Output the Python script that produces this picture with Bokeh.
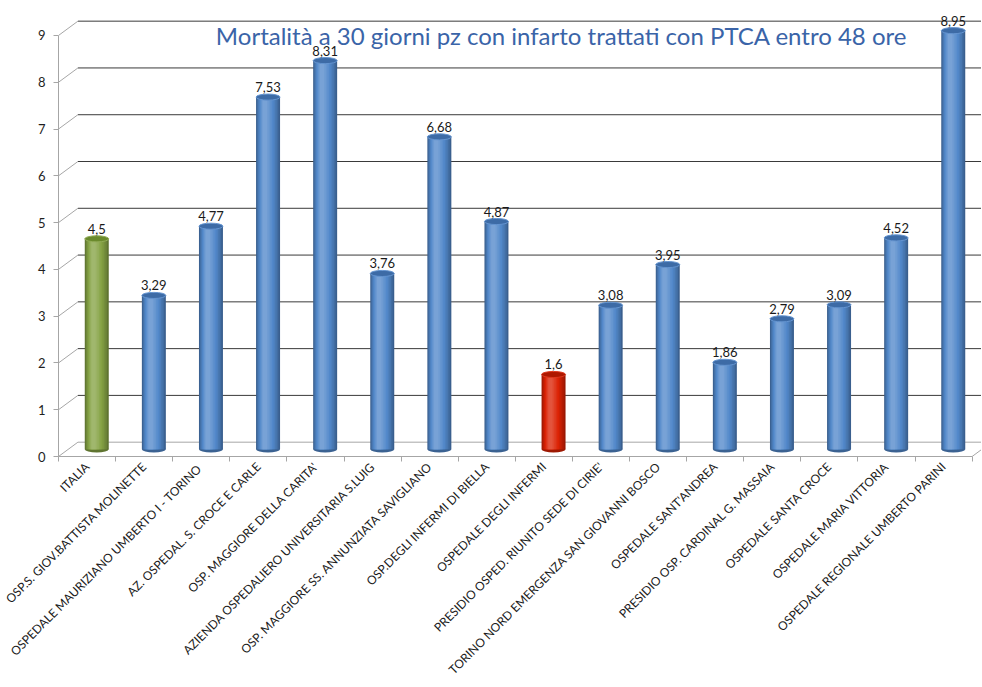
import numpy as np
from math import pi
from bokeh.plotting import figure
from bokeh.models import Label, FixedTicker, Range1d
from bokeh.core.properties import value
from bokeh.embed import file_html
from bokeh.resources import INLINE

# ---------------- data ----------------
categories = [
    "ITALIA",
    "OSP.S. GIOV.BATTISTA MOLINETTE",
    "OSPEDALE MAURIZIANO  UMBERTO I - TORINO",
    "AZ. OSPEDAL. S. CROCE E CARLE",
    "OSP. MAGGIORE DELLA CARITA'",
    "AZIENDA OSPEDALIERO UNIVERSITARIA S.LUIG",
    "OSP. MAGGIORE SS. ANNUNZIATA SAVIGLIANO",
    "OSP.DEGLI INFERMI DI BIELLA",
    "OSPEDALE DEGLI INFERMI",
    "PRESIDIO OSPED. RIUNITO SEDE DI CIRIE'",
    "TORINO NORD EMERGENZA SAN GIOVANNI BOSCO",
    "OSPEDALE SANT'ANDREA",
    "PRESIDIO OSP. CARDINAL G. MASSAIA",
    "OSPEDALE SANTA CROCE",
    "OSPEDALE MARIA VITTORIA",
    "OSPEDALE REGIONALE UMBERTO PARINI",
]
values = [4.5, 3.29, 4.77, 7.53, 8.31, 3.76, 6.68, 4.87, 1.6, 3.08, 3.95, 1.86, 2.79, 3.09, 4.52, 8.95]
value_labels = [("%g" % v).replace(".", ",") for v in values]
kinds = ["italia"] + ["osp"] * 7 + ["best"] + ["osp"] * 7
y_ticks = list(range(10))
title_text = "Mortalità a 30 giorni pz con infarto trattati con PTCA entro 48 ore"

# ---------------- styles ----------------
body_col = {"italia": "#86a345", "osp": "#5389cb", "best": "#dc2305"}
top_col = {"italia": "#6a8a2c", "osp": "#3d6ba6", "best": "#ae1800"}
FONT = "Lato"
DX, DY = 0.34, 0.306          # 3D depth in data units
BW = 0.42                     # bar (cylinder) width
EH = 0.13                     # ellipse height

def hex2rgb(h):
    h = h.lstrip("#")
    return tuple(int(h[i:i + 2], 16) for i in (0, 2, 4))

def shade(h, s):
    r, g, b = hex2rgb(h)
    if s >= 0:
        r, g, b = (c + (255 - c) * s for c in (r, g, b))
    else:
        r, g, b = (c * (1 + s) for c in (r, g, b))
    return "#%02x%02x%02x" % (int(r), int(g), int(b))

n = len(categories)
idx = np.arange(n)
centers = idx + 0.5 + DX / 2
bottoms = np.full(n, DY / 2)
tops = np.array(values) + DY / 2

W, H = 981, 686
FL, FB = 58, 456          # frame left, frame bottom (y = 0)
p = figure(width=W, height=H, output_backend="svg", toolbar_location=None,
           x_range=Range1d(0, (W - FL) / 57.1), y_range=Range1d(0, FB / 46.78),
           min_border_left=FL, min_border_right=0, min_border_top=0, min_border_bottom=H - FB)
p.outline_line_color = None
p.grid.visible = False
p.background_fill_color = "white"
p.border_fill_color = "white"

# y axis (front)
p.yaxis.ticker = FixedTicker(ticks=y_ticks)
p.yaxis.bounds = (0, 9)
p.yaxis.axis_line_color = "#a6a6a6"
p.yaxis.major_tick_line_color = "#a6a6a6"
p.yaxis.major_tick_out = 5
p.yaxis.major_tick_in = 0
p.yaxis.minor_tick_line_color = None
p.yaxis.major_label_standoff = 8
p.yaxis.major_label_text_font = FONT
p.yaxis.major_label_text_font_size = "13px"
p.yaxis.major_label_text_color = "#1f1f1f"

# x axis: labels at category centres, tick marks at category boundaries
label_pos = [i + 0.5 for i in range(n)]
p.xaxis.ticker = FixedTicker(ticks=label_pos, minor_ticks=list(range(n + 1)))
p.xaxis.bounds = (0, n)
p.xaxis.major_label_overrides = {pos: name for pos, name in zip(label_pos, categories)}
p.xaxis.major_label_orientation = pi / 4
p.xaxis.major_label_standoff = 3
p.xaxis.major_label_text_font = FONT
p.xaxis.major_label_text_font_size = "12px"
p.xaxis.major_label_text_color = "#1a1a1a"
p.xaxis.axis_line_color = "#a6a6a6"
p.xaxis.major_tick_line_color = None
p.xaxis.major_tick_out = 0
p.xaxis.major_tick_in = 0
p.xaxis.minor_tick_line_color = "#a6a6a6"
p.xaxis.minor_tick_out = 5
p.xaxis.minor_tick_in = 0

# back wall gridlines and side-wall diagonals
yt = np.array(y_ticks, dtype=float)
p.segment(x0=np.full(len(yt), DX), y0=yt + DY, x1=np.full(len(yt), n + DX), y1=yt + DY,
          line_color=["#a6a6a6"] + ["#3a3a3a"] * (len(yt) - 1), line_width=1)
p.segment(x0=np.zeros(len(yt)), y0=yt, x1=np.full(len(yt), DX), y1=yt + DY,
          line_color="#a6a6a6", line_width=1)
p.segment(x0=[n], y0=[0], x1=[n + DX], y1=[DY], line_color="#a6a6a6", line_width=1)

# cylinders: nested layers, dark edges to light highlight
bcols = [body_col[k] for k in kinds]
tcols = [top_col[k] for k in kinds]
p.ellipse(x=centers, y=bottoms, width=BW, height=EH,
          fill_color=[shade(c, -0.28) for c in bcols], line_color=None)
K = 9
for k in range(K):
    f = k / (K - 1)
    s = -0.30 + 0.52 * f ** 0.8
    w = BW * (1 - 0.82 * f)
    off = -BW * 0.13 * f
    p.vbar(x=centers + off, width=w, bottom=bottoms, top=tops,
           fill_color=[shade(c, s) for c in bcols], line_color=None)
p.ellipse(x=centers, y=tops, width=BW, height=EH,
          fill_color=tcols, line_color=[shade(c, 0.1) for c in bcols], line_width=1)

# value labels
p.text(x=centers, y=tops, text=value_labels, text_align="center", text_baseline="alphabetic",
       y_offset=-10, text_font=value(FONT), text_font_size="13px", text_color="#1a1a1a")

# title
p.add_layout(Label(x=8.81, y=9.0, text=title_text, text_align="center", text_baseline="alphabetic",
                   text_font=FONT, text_font_size="24px", text_color="#3a64a8"))

open("out.html", "w").write(file_html(p, INLINE))
